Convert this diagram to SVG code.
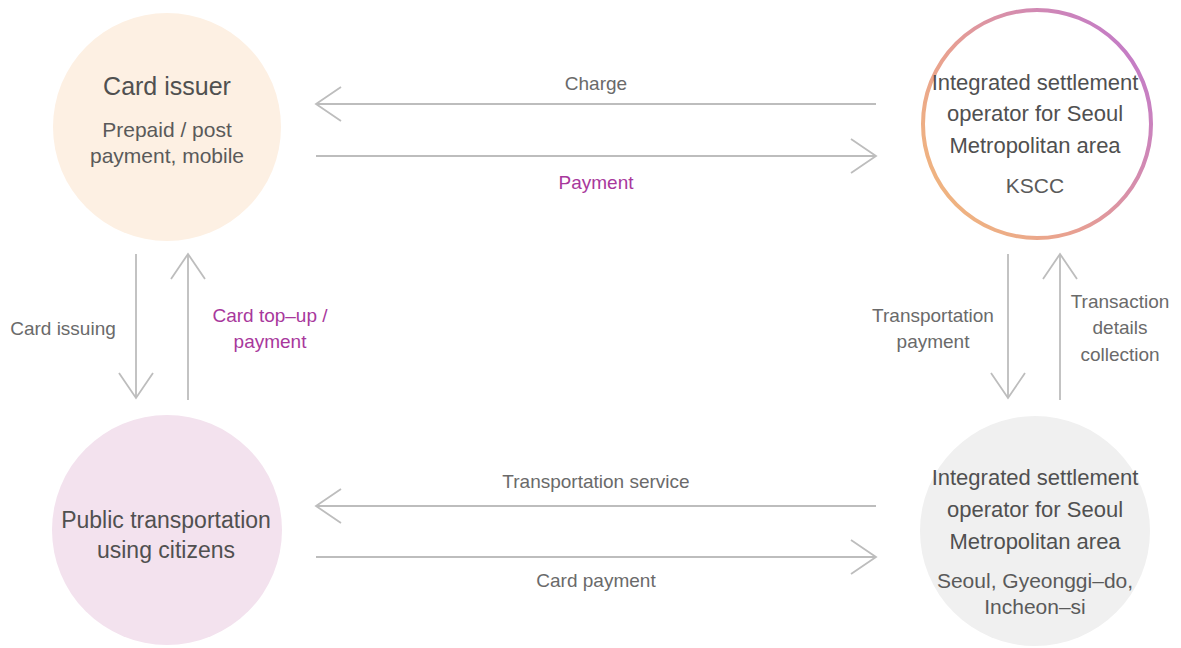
<svg xmlns="http://www.w3.org/2000/svg" width="1181" height="648" viewBox="0 0 1181 648">
<defs>
<linearGradient id="ring" x1="0" y1="1" x2="1" y2="0.3">
<stop offset="0" stop-color="#f3bd78"/>
<stop offset="0.45" stop-color="#e8a091"/>
<stop offset="1" stop-color="#c47cc6"/>
</linearGradient>
<marker id="arr" markerUnits="userSpaceOnUse" viewBox="-28 -19 30 38" markerWidth="30" markerHeight="38" refX="0" refY="0" orient="auto" overflow="visible">
<path d="M-25,-17 L0,0 L-25,17" fill="none" stroke="#bdbdbd" stroke-width="1.8"/>
</marker>
<style>
text{font-family:"Liberation Sans",Arial,sans-serif;text-anchor:middle}
.t{font-size:22px;fill:#505050}
.s{font-size:21px;fill:#5a5a5a}
.l{font-size:19px;fill:#6a6a6a}
.m{font-size:19px;fill:#a8389c}
.c{fill:none;stroke:#bdbdbd;stroke-width:1.8;marker-end:url(#arr)}
</style>
</defs>
<rect width="1181" height="648" fill="#ffffff"/>
<g id="connectors">
<line class="c" x1="876" y1="104" x2="316" y2="104"/>
<line class="c" x1="316" y1="156" x2="876" y2="156"/>
<line class="c" x1="876" y1="506" x2="316" y2="506"/>
<line class="c" x1="316" y1="557" x2="876" y2="557"/>
<line class="c" x1="136" y1="254" x2="136" y2="398"/>
<line class="c" x1="188" y1="400" x2="188" y2="254"/>
<line class="c" x1="1008" y1="254" x2="1008" y2="398"/>
<line class="c" x1="1060" y1="400" x2="1060" y2="254"/>
<text class="l" x="596" y="90">Charge</text>
<text class="m" x="596" y="189">Payment</text>
<text class="l" x="596" y="488">Transportation service</text>
<text class="l" x="596" y="587">Card payment</text>
<text class="l" x="63" y="335">Card issuing</text>
<text class="m" x="270" y="322">Card top–up /</text>
<text class="m" x="270" y="348">payment</text>
<text class="l" x="933" y="322">Transportation</text>
<text class="l" x="933" y="348">payment</text>
<text class="l" x="1120" y="308">Transaction</text>
<text class="l" x="1120" y="334">details</text>
<text class="l" x="1120" y="361">collection</text>
</g>
<g id="card-issuer">
<circle cx="167" cy="127" r="114" fill="#fdf0e3"/>
<text class="t" x="167" y="95" style="font-size:25px">Card issuer</text>
<text class="s" x="167" y="137">Prepaid / post</text>
<text class="s" x="167" y="163">payment, mobile</text>
</g>
<g id="kscc">
<circle cx="1037" cy="124" r="114" fill="#ffffff" stroke="url(#ring)" stroke-width="4"/>
<text class="t" x="1035" y="90">Integrated settlement</text>
<text class="t" x="1035" y="121">operator for Seoul</text>
<text class="t" x="1035" y="153">Metropolitan area</text>
<text class="s" x="1035" y="193">KSCC</text>
</g>
<g id="citizens">
<circle cx="167" cy="530" r="115" fill="#f3e2ee"/>
<text class="t" x="166" y="528" style="font-size:23px">Public transportation</text>
<text class="t" x="166" y="558" style="font-size:23px">using citizens</text>
</g>
<g id="regional">
<circle cx="1035" cy="531" r="115" fill="#f0f0f0"/>
<text class="t" x="1035" y="485">Integrated settlement</text>
<text class="t" x="1035" y="517">operator for Seoul</text>
<text class="t" x="1035" y="549">Metropolitan area</text>
<text class="s" x="1035" y="588">Seoul, Gyeonggi–do,</text>
<text class="s" x="1035" y="614">Incheon–si</text>
</g>
</svg>
